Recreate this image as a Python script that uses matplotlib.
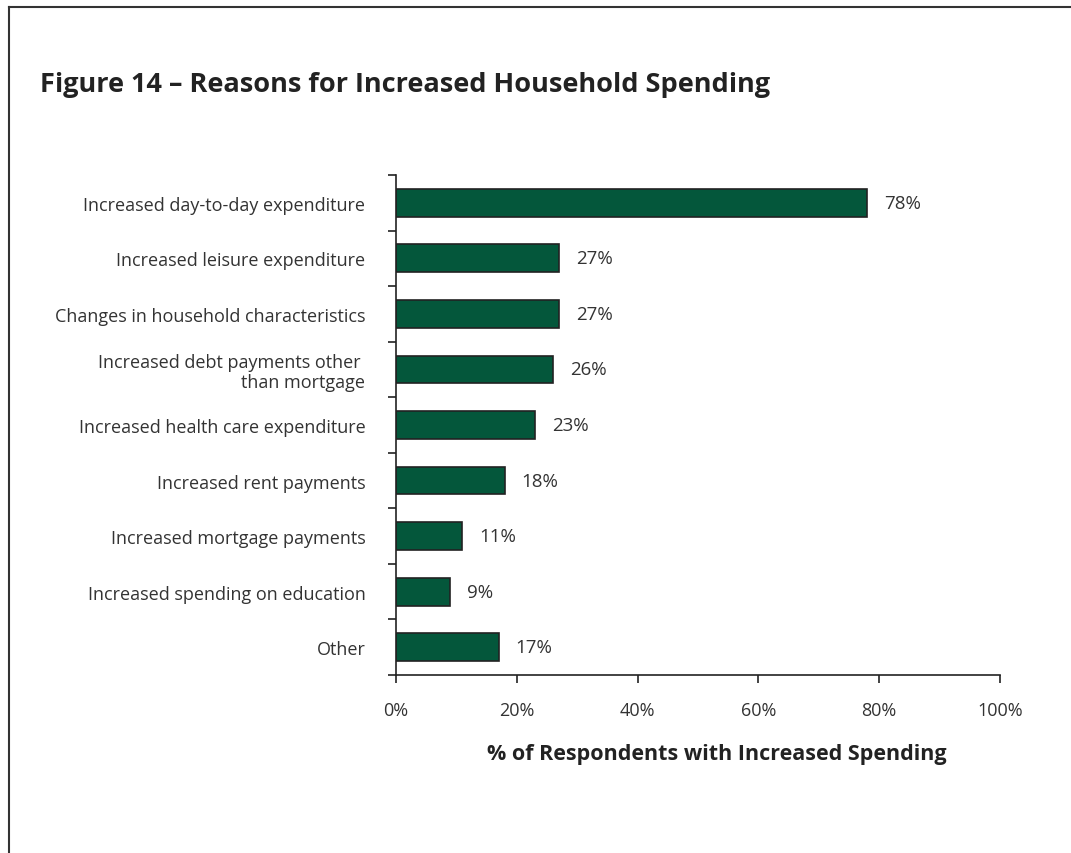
import matplotlib.pyplot as plt
from matplotlib.lines import Line2D

# Reasons for increased household spending (% of respondents)
razones = [
    "Increased day-to-day expenditure",
    "Increased leisure expenditure",
    "Changes in household characteristics",
    "Increased debt payments other \nthan mortgage",
    "Increased health care expenditure",
    "Increased rent payments",
    "Increased mortgage payments",
    "Increased spending on education",
    "Other",
]
porcentajes = [78, 27, 27, 26, 23, 18, 11, 9, 17]
ticks_x = [0, 20, 40, 60, 80, 100]
etiquetas_x = ["0%", "20%", "40%", "60%", "80%", "100%"]

plt.rcParams['font.family'] = ['Open Sans', 'DejaVu Sans']
color_texto = '#333333'

fig = plt.figure(figsize=(10.71, 8.54), dpi=100)
ax = fig.add_axes([396 / 1071, 1 - 676 / 854, 604 / 1071, 500 / 854])

pos = list(range(len(razones)))
ax.barh(pos, porcentajes, height=0.5, color='#04573B', edgecolor='#222222', linewidth=1.2)

for y, v in zip(pos, porcentajes):
    ax.text(v + 2.8, y, f"{v}%", va='center', ha='left', fontsize=13.5, color=color_texto)

ax.set_xlim(0, 100)
ax.set_ylim(len(razones) - 0.5, -0.5)

# etiquetas de categoria sin marca, marcas en los limites de cada barra
ax.set_yticks(pos)
ax.set_yticklabels(razones, fontsize=13, color=color_texto, ha='right', multialignment='right',
                   linespacing=1.1)
ax.tick_params(axis='y', which='major', length=0, pad=22)
ax.set_yticks([p - 0.5 for p in range(len(razones) + 1)], minor=True)
ax.tick_params(axis='y', which='minor', length=6, width=1.2, color='#222222', direction='out')

ax.set_xticks(ticks_x)
ax.set_xticklabels(etiquetas_x, fontsize=13, color=color_texto)
ax.tick_params(axis='x', length=6, width=1.2, color='#222222', direction='out', pad=13)

for lado in ['top', 'right']:
    ax.spines[lado].set_visible(False)
for lado in ['left', 'bottom']:
    ax.spines[lado].set_linewidth(1.2)
    ax.spines[lado].set_color('#222222')

# titulo y etiqueta del eje x
fig.text(40 / 1071, 1 - 85 / 854, "Figure 14 \u2013 Reasons for Increased Household Spending",
         fontsize=19.5, fontweight='bold', color='#222222', va='center', ha='left')
fig.text(717 / 1071, 1 - 755 / 854, "% of Respondents with Increased Spending",
         fontsize=15.5, fontweight='bold', color='#222222', va='center', ha='center')

# marco del recuadro (solo arriba e izquierda)
fig.add_artist(Line2D([9 / 1071, 9 / 1071], [0, 1 - 8 / 854], transform=fig.transFigure,
                      color='#333333', linewidth=1.5))
fig.add_artist(Line2D([9 / 1071, 1], [1 - 8 / 854, 1 - 8 / 854], transform=fig.transFigure,
                      color='#333333', linewidth=1.5))

fig.savefig('out.png', dpi=100)
